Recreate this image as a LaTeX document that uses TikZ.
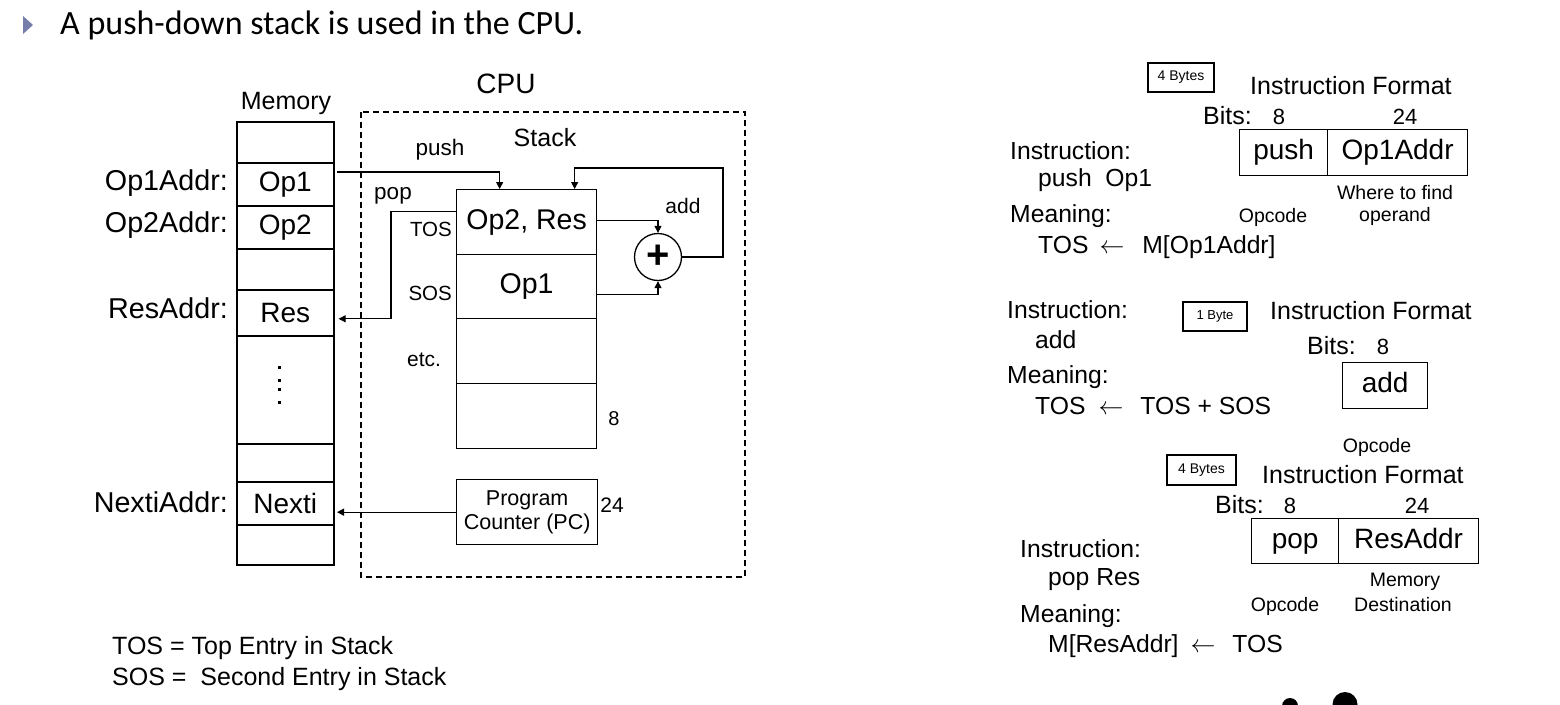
\documentclass[tikz,border=0pt]{standalone}
\usepackage{fontspec}
\setmainfont{Liberation Sans}
\newfontfamily\titlefont{Carlito}
\usetikzlibrary{arrows.meta}
\newcommand\fsz[1]{\fontsize{#1}{#1}\selectfont}
\definecolor{bulletc}{RGB}{118,125,170}
\begin{document}
\begin{tikzpicture}[x=1pt,y=-1pt,
  txt/.style={inner sep=0pt},
  cell/.style={draw, line width=1.6pt, minimum width=97pt, anchor=north west, inner sep=0pt, font=\fsz{28}},
  scell/.style={draw, line width=1.3pt, minimum width=140pt, anchor=north west, inner sep=0pt, font=\fsz{28.5}},
  fbox/.style={draw, line width=1.2pt, anchor=north west, inner sep=0pt, text height=20pt, text depth=6pt, font=\fsz{28}},
  sbox/.style={draw, line width=1.1pt, inner sep=0pt},
  arr/.style={line width=1.2pt, -{Triangle[length=7pt,width=7pt]}},
  wire/.style={line width=1.2pt}]
\useasboundingbox (0,0) rectangle (1560,704);
% title
\fill[bulletc] (23,16) -- (33,25) -- (23,34) -- cycle;
\node[txt, anchor=base west, font=\titlefont\fsz{34}] (title) at (60,34) {A push-down stack is used in the CPU.};
% memory
\node[txt, font=\fsz{25}] (memlbl) at (286,103) {Memory};
\node[cell, minimum height=41pt] (m1) at (236,121) {};
\node[cell, minimum height=43pt] (m2) at (236,162) {Op1};
\node[cell, minimum height=43pt] (m3) at (236,205) {Op2};
\node[cell, minimum height=41pt] (m4) at (236,248) {};
\node[cell, minimum height=46pt] (m5) at (236,289) {Res};
\node[cell, minimum height=108pt] (m6) at (236,335) {};
\node[cell, minimum height=38pt] (m7) at (236,443) {};
\node[cell, minimum height=43pt] (m8) at (236,481) {Nexti};
\node[cell, minimum height=40pt] (m9) at (236,524) {};
\foreach \yy in {367,380,389,402} \fill (277.5,\yy-1.5) rectangle (280.5,\yy+1.5);
\node[txt, anchor=east, font=\fsz{28.7}] (l1) at (228,183) {Op1Addr:};
\node[txt, anchor=east, font=\fsz{28.7}] (l2) at (228,225) {Op2Addr:};
\node[txt, anchor=east, font=\fsz{28.7}] (l3) at (228,308) {ResAddr:};
\node[txt, anchor=east, font=\fsz{28.7}] (l4) at (228,502) {NextiAddr:};
% CPU
\node[txt, font=\fsz{28}] (cpulbl) at (506,84) {CPU};
\draw[line width=1.3pt, dash pattern=on 6pt off 4pt] (361,112) rectangle (745,577);
\node[txt, font=\fsz{25}] (stacklbl) at (545,138) {Stack};
\node[txt, font=\fsz{22.5}] (pushlbl) at (440,150) {push};
\node[txt, font=\fsz{22.5}] (poplbl) at (393,196) {pop};
\node[scell, minimum height=65pt] (s1) at (456,189) {Op2, Res};
\node[scell, minimum height=64pt] (s2) at (456,254) {Op1};
\node[scell, minimum height=65pt] (s3) at (456,318) {};
\node[scell, minimum height=65pt] (s4) at (456,383) {};
\node[txt, anchor=east, font=\fsz{20.5}] (tos) at (452,229) {TOS};
\node[txt, anchor=east, font=\fsz{20.5}] (sos) at (452,293) {SOS};
\node[txt, font=\fsz{21}] (etc) at (424,360) {etc.};
\node[txt, font=\fsz{20}] (eight) at (614,419) {8};
\node[circle, draw, line width=1.3pt, minimum size=47pt, inner sep=0pt, font=\fsz{40}\bfseries] (c) at (658,257) {+};
\node[txt, font=\fsz{21}] (addlbl) at (683,206) {add};
\node[draw, line width=1.3pt, minimum width=141pt, minimum height=65pt, anchor=north west, inner sep=0pt, align=center, font=\fsz{21.5}] (pc) at (456,479) {Program\\[2pt]Counter (PC)};
\node[txt, font=\fsz{21}] (tf) at (612,505) {24};
% connectors
\coordinate (pushA) at (337,172);
\draw[arr] (pushA) -| ([xshift=-27pt]s1.north);
\draw[arr] ([yshift=10.5pt]s1.west) -- ++(-65,0) |- ([xshift=4pt,yshift=-6pt]m5.east);
\draw[arr] ([yshift=1.5pt]s1.east) -| (c.north);
\draw[arr] ([yshift=-8pt]s2.east) -| (c.south);
\coordinate (outR) at (723,168);
\draw[arr] (c.east) -| (outR) -| ([xshift=48pt]s1.north);
\draw[arr] (pc.west) -- ++(-119,0);
% legend
\node[txt, anchor=west, font=\fsz{25}] (leg1) at (112,648) {TOS = Top Entry in Stack};
\node[txt, anchor=west, font=\fsz{25}] (leg2) at (112,679) {SOS = \ Second Entry in Stack};
% ---- right: push
\node[sbox, minimum width=66pt, minimum height=29pt, font=\fsz{14}] (b1) at (1181,77.5) {4 Bytes};
\node[txt, anchor=west, font=\fsz{25}] (if1) at (1250,86) {Instruction Format};
\node[txt, anchor=west, font=\fsz{25}] (bits1) at (1203,116) {Bits:};
\node[txt, font=\fsz{22}] (b1a) at (1279,117) {8};
\node[txt, font=\fsz{22}] (b1b) at (1405,117) {24};
\node[fbox, minimum width=88pt, minimum height=46pt] (f1a) at (1239,129) {push};
\node[fbox, minimum width=140pt, minimum height=46pt] (f1b) at (1327,129) {Op1Addr};
\node[txt, font=\fsz{19.5}] (w1) at (1395,193) {Where to find};
\node[txt, font=\fsz{19.5}] (w2) at (1395,216) {operand};
\node[txt, font=\fsz{19.5}] (oc1) at (1273,217) {Opcode};
\node[txt, anchor=west, font=\fsz{24.7}] (i1) at (1010,151) {Instruction:};
\node[txt, anchor=west, font=\fsz{24.7}] (i1b) at (1038,180) {push\ \ Op1};
\node[txt, anchor=west, font=\fsz{24.7}] (i1c) at (1010,216) {Meaning:};
\node[txt, anchor=west, font=\fsz{24.7}] (i1d) at (1038,247) {TOS\hspace{11pt}$\leftarrow$\hspace{18pt}M[Op1Addr]};
% ---- right: add
\node[sbox, minimum width=64pt, minimum height=29pt, font=\fsz{13}] (b2) at (1215,316.5) {1 Byte};
\node[txt, anchor=west, font=\fsz{25}] (if2) at (1270,311) {Instruction Format};
\node[txt, anchor=west, font=\fsz{25}] (bits2) at (1307,346) {Bits:};
\node[txt, font=\fsz{22}] (b2a) at (1383,347) {8};
\node[fbox, minimum width=85pt, minimum height=46pt] (f2) at (1342,362) {add};
\node[txt, font=\fsz{19.5}] (oc2) at (1377,447) {Opcode};
\node[txt, anchor=west, font=\fsz{24.7}] (i2) at (1007,310) {Instruction:};
\node[txt, anchor=west, font=\fsz{24.7}] (i2b) at (1035,340) {add};
\node[txt, anchor=west, font=\fsz{24.7}] (i2c) at (1007,377) {Meaning:};
\node[txt, anchor=west, font=\fsz{24.7}] (i2d) at (1035,406) {TOS\hspace{13pt}$\leftarrow$\hspace{17pt}TOS + SOS};
% ---- right: pop
\node[sbox, minimum width=69pt, minimum height=30pt, font=\fsz{14}] (b3) at (1201.5,470) {4 Bytes};
\node[txt, anchor=west, font=\fsz{25}] (if3) at (1262,475) {Instruction Format};
\node[txt, anchor=west, font=\fsz{25}] (bits3) at (1215,505) {Bits:};
\node[txt, font=\fsz{22}] (b3a) at (1290,506) {8};
\node[txt, font=\fsz{22}] (b3b) at (1417,506) {24};
\node[fbox, minimum width=87pt, minimum height=45pt] (f3a) at (1251,518) {pop};
\node[fbox, minimum width=140pt, minimum height=45pt] (f3b) at (1338,518) {ResAddr};
\node[txt, font=\fsz{19.5}] (md1) at (1405,582) {Memory};
\node[txt, font=\fsz{19.5}] (md2) at (1403,605) {Destination};
\node[txt, font=\fsz{19.5}] (oc3) at (1285,606) {Opcode};
\node[txt, anchor=west, font=\fsz{24.7}] (i3) at (1020,549) {Instruction:};
\node[txt, anchor=west, font=\fsz{24.7}] (i3b) at (1048,580) {pop Res};
\node[txt, anchor=west, font=\fsz{24.7}] (i3c) at (1020,616) {Meaning:};
\node[txt, anchor=west, font=\fsz{24.7}] (i3d) at (1048,646) {M[ResAddr]\hspace{12pt}$\leftarrow$\hspace{17pt}TOS};
% blobs
\begin{scope}
\clip (0,0) rectangle (1560,704);
\fill (1290,706) circle (8);
\fill (1345,704.5) circle (12.5);
\end{scope}
\end{tikzpicture}
\end{document}
